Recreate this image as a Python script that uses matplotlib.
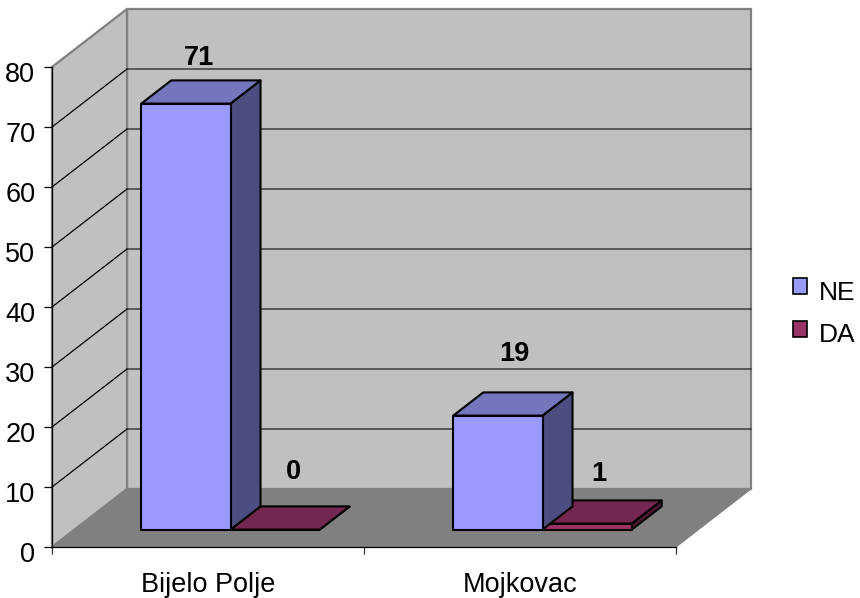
import matplotlib.pyplot as plt
from matplotlib.patches import Polygon, Patch, Rectangle
from matplotlib.legend_handler import HandlerPatch
from matplotlib.transforms import ScaledTranslation

plt.rcParams['font.family'] = ['Liberation Sans', 'DejaVu Sans']

categories = ['Bijelo Polje', 'Mojkovac']
series_names = ['NE', 'DA']
ne_values = [71, 19]
da_values = [0, 1]
y_ticks = [0, 10, 20, 30, 40, 50, 60, 70, 80]

# colours front/top/side
ne_cols = ('#9999FF', '#7575BD', '#4D4D80')
da_cols = ('#993366', '#732650', '#4D1933')

# depth of the box in category and value units
DX = 75 / 312
DY = 58 / 6
BAR_W = 0.286
GAP = 0.214
D0, D1 = 0.30, 0.70

def proj(x, v, d):
    return (x + d * DX, v + d * DY)

fig = plt.figure(figsize=(8.6, 5.98), dpi=100)
ax = fig.add_axes([52 / 860, (598 - 547) / 598, 624 / 860, 480 / 598])
ax.set_xlim(0, 2)
ax.set_ylim(0, 80)
ax.patch.set_visible(False)

# walls and floor
ax.add_patch(Polygon([proj(0, 0, 1), proj(2, 0, 1), proj(2, 80, 1), proj(0, 80, 1)],
                     fc='#C0C0C0', ec='#808080', lw=1.6, clip_on=False, zorder=1))
ax.add_patch(Polygon([proj(0, 0, 0), proj(0, 0, 1), proj(0, 80, 1), proj(0, 80, 0)],
                     fc='#C0C0C0', ec='#808080', lw=1.6, clip_on=False, zorder=1))
ax.add_patch(Polygon([proj(0, 0, 0), proj(2, 0, 0), proj(2, 0, 1), proj(0, 0, 1)],
                     fc='#808080', ec='#808080', lw=0.8, clip_on=False, zorder=1.1))

# gridlines, back wall and side wall
for t in y_ticks[1:-1]:
    ax.plot([proj(0, t, 1)[0], proj(2, t, 1)[0]], [proj(0, t, 1)[1], proj(2, t, 1)[1]],
            color='#3c3c3c', lw=1.1, clip_on=False, zorder=1.2)
    ax.plot([0, proj(0, t, 1)[0]], [t, proj(0, t, 1)[1]],
            color='black', lw=0.9, clip_on=False, zorder=1.2)

def box(x, val, cols, z):
    x1 = x + BAR_W
    front = [proj(x, 0, D0), proj(x1, 0, D0), proj(x1, val, D0), proj(x, val, D0)]
    top = [proj(x, val, D0), proj(x1, val, D0), proj(x1, val, D1), proj(x, val, D1)]
    side = [proj(x1, 0, D0), proj(x1, 0, D1), proj(x1, val, D1), proj(x1, val, D0)]
    for pts, col in zip((side, top, front), (cols[2], cols[1], cols[0])):
        ax.add_patch(Polygon(pts, fc=col, ec='black', lw=1.5, joinstyle='round',
                             clip_on=False, zorder=z))

for i in range(len(categories)):
    box(i + GAP + BAR_W, da_values[i], da_cols, 2)
    box(i + GAP, ne_values[i], ne_cols, 3)

# data labels, offsets in points from the top centre of the box
ne_off = [(-12, 7), (-10, 18.4)]
da_off = [(-8.5, 15.6), (-13.5, 9.6)]
for i in range(len(categories)):
    xm = i + GAP + BAR_W / 2
    ax.annotate(str(ne_values[i]), proj(xm, ne_values[i], D1), xytext=ne_off[i],
                textcoords='offset points', ha='center', va='bottom',
                fontsize=19.5, fontweight='bold', zorder=5, annotation_clip=False)
    ax.annotate(str(da_values[i]), proj(xm + BAR_W, da_values[i], D1), xytext=da_off[i],
                textcoords='offset points', ha='center', va='bottom',
                fontsize=19.5, fontweight='bold', zorder=5, annotation_clip=False)

# axes
for s in ('top', 'right'):
    ax.spines[s].set_visible(False)
ax.spines['left'].set_linewidth(0.9)
ax.spines['bottom'].set_linewidth(0.9)
ax.spines['left'].set_zorder(4)
ax.spines['bottom'].set_zorder(4)
ax.set_yticks(y_ticks)
ax.tick_params(axis='y', labelsize=19.5, length=5.5, width=0.9, pad=6.5)
# numbers sit a little below their ticks in the original
for lab in ax.get_yticklabels():
    lab.set_transform(lab.get_transform() + ScaledTranslation(0, -5 / 100, fig.dpi_scale_trans))
ax.set_xticks([0, 1, 2])
ax.set_xticklabels([])
ax.tick_params(axis='x', which='major', length=5, width=0.9, color='#333333')
ax.set_xticks([0.5, 1.5], minor=True)
ax.set_xticklabels(categories, minor=True, fontsize=19.5)
ax.tick_params(axis='x', which='minor', length=0, pad=18)

def raised(legend, orig_handle, xdescent, ydescent, width, height, fontsize):
    return Rectangle((-xdescent, -ydescent + 3), width, height)

handles = [Patch(fc=ne_cols[0], ec='black', lw=1.2), Patch(fc=da_cols[0], ec='black', lw=1.2)]
fig.legend(handles, series_names, loc='center left', bbox_to_anchor=(793 / 860, 1 - 314 / 598),
           frameon=False, fontsize=19, handlelength=0.53, handleheight=0.53,
           handletextpad=0.45, labelspacing=0.72, borderpad=0, borderaxespad=0,
           handler_map={Patch: HandlerPatch(patch_func=raised)})

fig.savefig('out.png', dpi=100)
